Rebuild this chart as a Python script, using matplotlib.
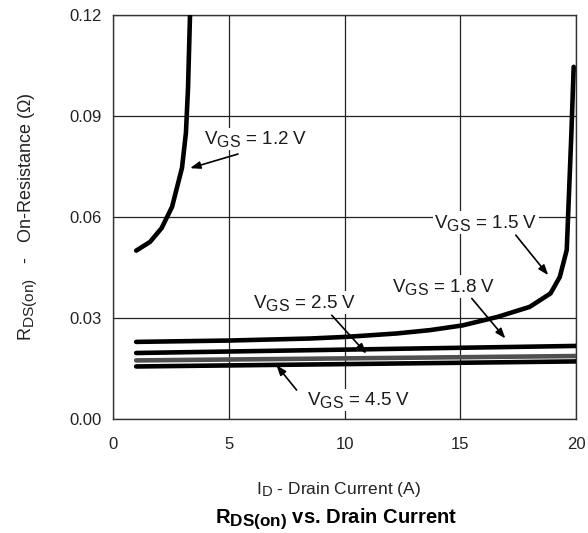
import matplotlib
matplotlib.use("Agg")
import matplotlib.pyplot as plt
import matplotlib._mathtext as _mt

plt.rcParams['font.family'] = ['Liberation Sans', 'DejaVu Sans']
plt.rcParams['mathtext.fontset'] = 'custom'
plt.rcParams['mathtext.rm'] = 'Liberation Sans'
plt.rcParams['mathtext.it'] = 'Liberation Sans:italic'
plt.rcParams['mathtext.bf'] = 'Liberation Sans:bold'
_mt.SHRINK_FACTOR = 0.85  # larger subscripts, like the reference

# Data
vgs12_x = [1.0, 1.6, 2.1, 2.55, 2.98, 3.15, 3.24, 3.33]
vgs12_y = [0.050, 0.0526, 0.0567, 0.063, 0.0746, 0.085, 0.0983, 0.121]

vgs15_x = [1.0, 5.0, 8.5, 10.1, 12.25, 13.7, 15.1, 16.6, 18.0, 18.9, 19.3, 19.6, 19.8, 19.9]
vgs15_y = [0.0229, 0.0233, 0.0239, 0.0244, 0.0254, 0.0264, 0.0278, 0.0303, 0.0333,
           0.0373, 0.0422, 0.0502, 0.0848, 0.1046]

vgs18_x = [1.0, 10.0, 20.0]
vgs18_y = [0.0196, 0.0206, 0.0217]

vgs25_x = [1.0, 10.0, 20.0]
vgs25_y = [0.0174, 0.0180, 0.0187]

vgs45_x = [1.0, 10.0, 20.0]
vgs45_y = [0.0156, 0.0163, 0.0171]

x_ticks = [0, 5, 10, 15, 20]
y_ticks = [0.00, 0.03, 0.06, 0.09, 0.12]

labels = [r'V$_{\mathrm{GS}}$ = 1.2 V', r'V$_{\mathrm{GS}}$ = 1.5 V', r'V$_{\mathrm{GS}}$ = 1.8 V',
          r'V$_{\mathrm{GS}}$ = 2.5 V', r'V$_{\mathrm{GS}}$ = 4.5 V']
label_pos = [(6.17, 0.0817), (16.1, 0.0568), (14.27, 0.0378), (8.28, 0.0331), (10.6, 0.0041)]
arrow_tail = [(5.4, 0.0787), (17.4, 0.0546), (15.5, 0.0358), (9.45, 0.0308), (7.93, 0.0086)]
arrow_head = [(3.33, 0.0745), (18.8, 0.0427), (16.95, 0.0239), (10.95, 0.0194), (7.06, 0.0160)]

fig = plt.figure(figsize=(5.88, 5.33), dpi=100)
ax = fig.add_axes([0.1922, 0.2139, 0.7874, 0.758])

lw = 3.3
ax.plot(vgs12_x, vgs12_y, color='black', lw=lw, solid_capstyle='round', zorder=3)
ax.plot(vgs15_x, vgs15_y, color='black', lw=lw, solid_capstyle='round', zorder=3)
ax.plot(vgs18_x, vgs18_y, color='black', lw=lw, solid_capstyle='round', zorder=3)
ax.plot(vgs45_x, vgs45_y, color='black', lw=lw, solid_capstyle='round', zorder=3)
ax.plot(vgs25_x, vgs25_y, color='#505050', lw=lw, solid_capstyle='round', zorder=3)

ax.set_xlim(0, 20)
ax.set_ylim(0, 0.12)
ax.set_xticks(x_ticks)
ax.set_yticks(y_ticks)
ax.set_yticklabels([f'{v:.2f}' for v in y_ticks])
ax.tick_params(length=0, labelsize=12, colors='#222222')
ax.tick_params(axis='y', pad=8)
ax.tick_params(axis='x', pad=13)
ax.grid(True, color='#222222', lw=0.9)
ax.set_axisbelow(True)
for s in ax.spines.values():
    s.set_color('#333333')
    s.set_linewidth(1.0)

for lab, pos, tail, head in zip(labels, label_pos, arrow_tail, arrow_head):
    ax.annotate('', xy=head, xytext=tail,
                arrowprops=dict(arrowstyle='-|>,head_length=0.6,head_width=0.22',
                                color='black', lw=1.2, shrinkA=0, shrinkB=0), zorder=5)
    ax.text(pos[0], pos[1], lab, ha='center', va='baseline', fontsize=13.5,
            color='#1a1a1a',
            bbox=dict(facecolor='white', edgecolor='none', pad=1.0), zorder=4)

fig.text(28 / 588, 1 - 217 / 533, r'R$_{\mathrm{DS(on)}}$   -   On-Resistance ($\Omega$)',
         rotation=90, ha='center', va='center', fontsize=13, color='#222222')
fig.text(0.575, 0.0807, r'I$_{\mathrm{D}}$ - Drain Current (A)', ha='center', va='center',
         fontsize=12.5, color='#222222')
fig.text(0.572, 0.028, r'$\mathbf{R_{DS(on)}}$ vs. Drain Current', ha='center', va='center',
         fontsize=14.5, fontweight='bold', color='black')

fig.savefig('out.png', dpi=100)
